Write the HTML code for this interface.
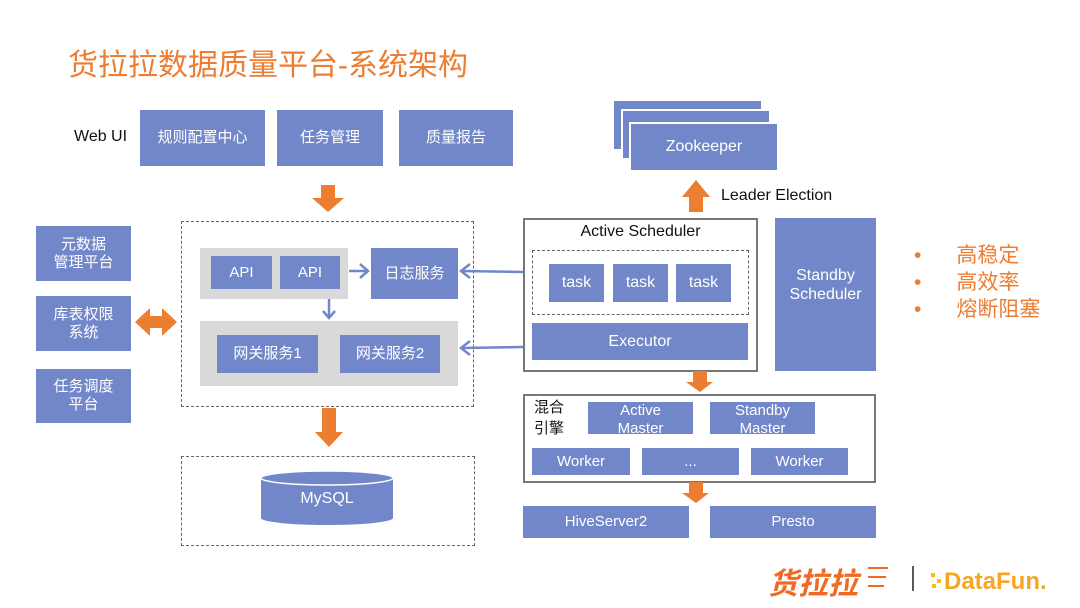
<!DOCTYPE html>
<html><head><meta charset="utf-8"><style>
body{margin:0;width:1080px;height:608px;background:#fff;position:relative;overflow:hidden;font-family:"Liberation Sans","Noto Sans CJK SC",sans-serif}
div{position:absolute;box-sizing:border-box}
.b{background:#7287c9;color:#fff;display:flex;align-items:center;justify-content:center;text-align:center;font-size:15px;line-height:18px}
.g{background:#d9d9d9}
.d{border:1.5px dashed #666}
.s{border:2px solid #777}
.t{color:#111;font-size:15px}
</style></head><body>
<div style="left:68px;top:40px;font-size:30px;color:#ed7d31;white-space:nowrap">货拉拉数据质量平台-系统架构</div>
<div class="t" style="left:74px;top:128px;font-size:16px">Web UI</div>
<div class="b" style="left:140px;top:110px;width:125px;height:56px">规则配置中心</div>
<div class="b" style="left:277px;top:110px;width:106px;height:56px">任务管理</div>
<div class="b" style="left:399px;top:110px;width:114px;height:56px">质量报告</div>

<div class="d" style="left:181px;top:221px;width:293px;height:186px"></div>
<div class="g" style="left:200px;top:248px;width:148px;height:51px"></div>
<div class="b" style="left:211px;top:256px;width:61px;height:33px">API</div>
<div class="b" style="left:280px;top:256px;width:60px;height:33px">API</div>
<div class="b" style="left:371px;top:248px;width:87px;height:51px">日志服务</div>
<div class="g" style="left:200px;top:321px;width:258px;height:65px"></div>
<div class="b" style="left:217px;top:335px;width:101px;height:38px">网关服务1</div>
<div class="b" style="left:340px;top:335px;width:100px;height:38px">网关服务2</div>

<div class="b" style="left:36px;top:226px;width:95px;height:55px">元数据<br>管理平台</div>
<div class="b" style="left:36px;top:296px;width:95px;height:55px">库表权限<br>系统</div>
<div class="b" style="left:36px;top:369px;width:95px;height:54px">任务调度<br>平台</div>

<div class="d" style="left:181px;top:456px;width:294px;height:90px"></div>

<div style="left:613px;top:100px;width:149px;height:50px;background:#7287c9;border:1px solid #fff"></div>
<div style="left:621px;top:109px;width:150px;height:51px;background:#7287c9;border:2px solid #fff"></div>
<div class="b" style="left:629px;top:122px;width:150px;height:50px;border:2px solid #fff;font-size:16px">Zookeeper</div>
<div class="t" style="left:721px;top:187px;font-size:16px">Leader Election</div>

<div class="s" style="left:523px;top:218px;width:235px;height:154px"></div>
<div class="t" style="left:523px;top:223px;width:235px;text-align:center;font-size:16px">Active Scheduler</div>
<div class="d" style="left:532px;top:250px;width:217px;height:65px"></div>
<div class="b" style="left:549px;top:264px;width:55px;height:38px;font-size:16px">task</div>
<div class="b" style="left:613px;top:264px;width:55px;height:38px;font-size:16px">task</div>
<div class="b" style="left:676px;top:264px;width:55px;height:38px;font-size:16px">task</div>
<div class="b" style="left:532px;top:323px;width:216px;height:37px;font-size:16px">Executor</div>
<div class="b" style="left:775px;top:218px;width:101px;height:153px;font-size:16px;line-height:19px;padding-bottom:20px">Standby<br>Scheduler</div>

<div style="left:914px;top:242px;font-size:21px;line-height:27px;color:#ed7d31">
<div style="position:relative">•&nbsp;&nbsp;&nbsp;&nbsp;&nbsp;&nbsp;高稳定</div>
<div style="position:relative">•&nbsp;&nbsp;&nbsp;&nbsp;&nbsp;&nbsp;高效率</div>
<div style="position:relative">•&nbsp;&nbsp;&nbsp;&nbsp;&nbsp;&nbsp;熔断阻塞</div>
</div>

<div class="s" style="left:523px;top:394px;width:353px;height:89px"></div>
<div class="t" style="left:534px;top:397px;line-height:21px">混合<br>引擎</div>
<div class="b" style="left:588px;top:402px;width:105px;height:32px;font-size:15px;line-height:18px;align-items:flex-start;overflow:hidden;padding-top:0">Active<br>Master</div>
<div class="b" style="left:710px;top:402px;width:105px;height:32px;font-size:15px;line-height:18px;align-items:flex-start;overflow:hidden">Standby<br>Master</div>
<div class="b" style="left:532px;top:448px;width:98px;height:27px">Worker</div>
<div class="b" style="left:642px;top:448px;width:97px;height:27px">...</div>
<div class="b" style="left:751px;top:448px;width:97px;height:27px">Worker</div>
<div class="b" style="left:523px;top:506px;width:166px;height:32px">HiveServer2</div>
<div class="b" style="left:710px;top:506px;width:166px;height:32px">Presto</div>

<svg style="position:absolute;left:0;top:0" width="1080" height="608">
<g fill="#ed7d31">
<polygon points="321,185 335,185 335,198 344,198 328,212 312,198 321,198"/>
<polygon points="322,408 336,408 336,432 343,432 329,447 315,432 322,432"/>
<polygon points="135,322 150,308 150,316 162,316 162,308 177,322 162,336 162,328 150,328 150,336"/>
<polygon points="689,212 703,212 703,197 710,197 696,180 682,197 689,197"/>
<polygon points="693,371 707,371 707,382 713,382 700,392 686,382 693,382"/>
<polygon points="689,482 703,482 703,493 709,493 696,503 682,493 689,493"/>
</g>
<g stroke="#7287c9" stroke-width="2.5" fill="none">
<line x1="349" y1="271" x2="368" y2="271"/><polyline points="360,264 368,271 360,278"/>
<line x1="329" y1="299" x2="329" y2="317"/><polyline points="323,311 329,318 335,311"/>
<line x1="523" y1="272" x2="461" y2="271"/><polyline points="470,264 461,271 470,278"/>
<line x1="523" y1="347" x2="461" y2="348"/><polyline points="470,341 461,348 470,355"/>
</g>
<ellipse cx="327" cy="518" rx="66" ry="7" fill="#7287c9"/>
<rect x="261" y="478" width="132" height="40" fill="#7287c9"/>
<ellipse cx="327" cy="478" rx="66" ry="7" fill="#7287c9" stroke="#fff" stroke-width="1.5"/>
<text x="327" y="503" fill="#fff" font-size="16" text-anchor="middle" font-family="Liberation Sans">MySQL</text>
<line x1="913" y1="566" x2="913" y2="591" stroke="#222" stroke-width="1.5"/>
<text x="768" y="594" fill="#f06a24" font-size="30" font-weight="bold" font-style="italic" font-family="Noto Sans CJK SC">货拉拉</text>
<g stroke="#f06a24" stroke-width="2"><line x1="868" y1="568" x2="888" y2="568"/><line x1="868" y1="577" x2="886" y2="577"/><line x1="868" y1="586" x2="884" y2="586"/></g>
<text x="944" y="589" fill="#f5a623" font-size="24" font-weight="bold" font-family="Liberation Sans">DataFun.</text>
<g fill="#f5c400"><rect x="931" y="573" width="4" height="4"/><rect x="937" y="579" width="4" height="4"/><rect x="932" y="584" width="4" height="4"/></g>
</svg>
</body></html>
